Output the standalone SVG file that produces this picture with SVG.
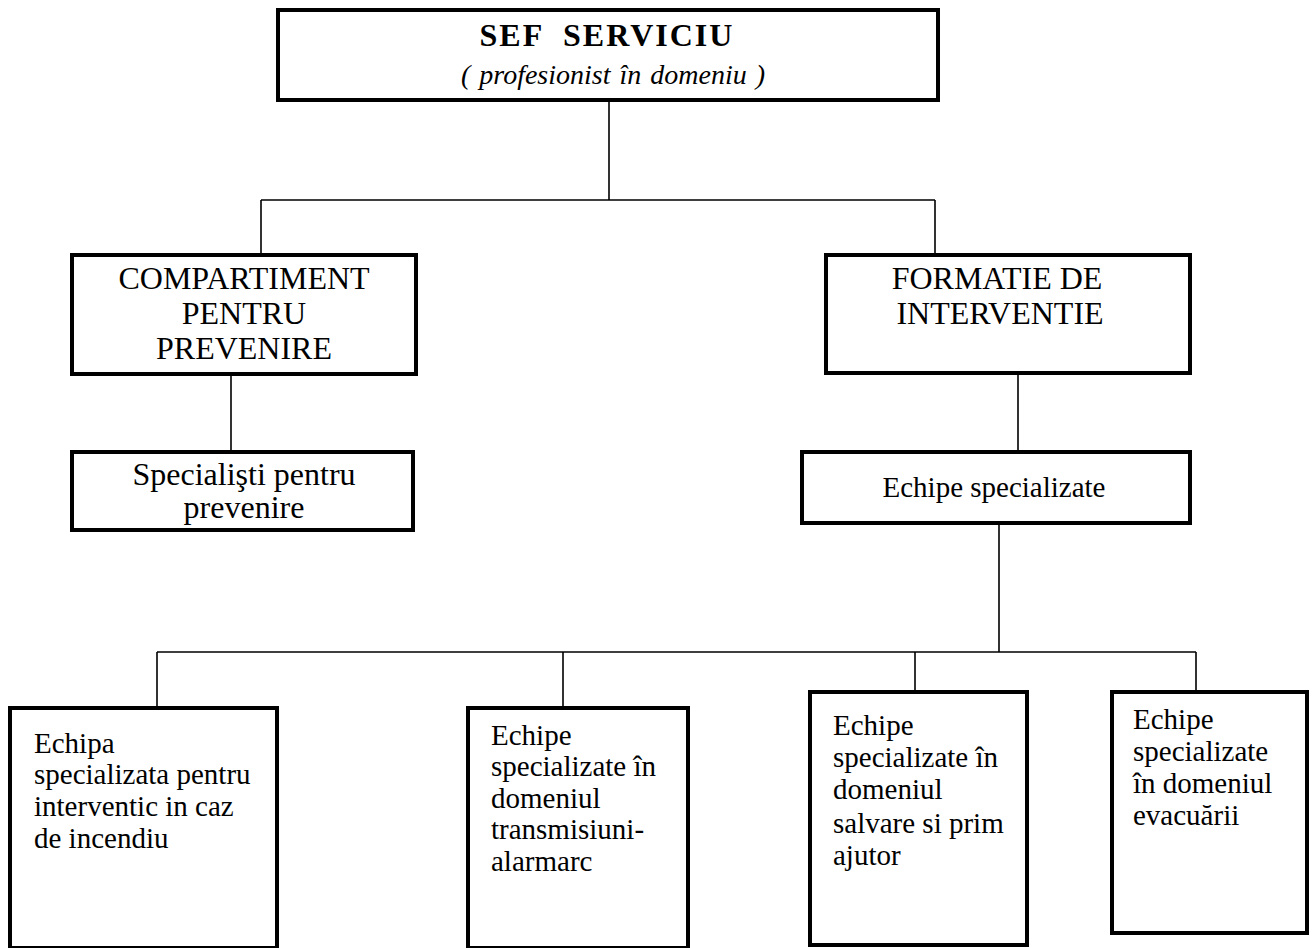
<svg xmlns="http://www.w3.org/2000/svg" width="1314" height="948" viewBox="0 0 1314 948">
<style>
.box{fill:#fff;stroke:#000;stroke-width:4}
.ln{fill:none;stroke:#000;stroke-width:1.6}
text{font-family:"Liberation Serif","Times New Roman",serif;fill:#000}
.c{text-anchor:middle;font-size:32px}
.t{font-size:29px}
</style>
<rect width="1314" height="948" fill="#fff"/>
<g id="connectors">
<path class="ln" d="M609 100V200M261 200H935M261 200V255M935 200V255"/>
<path class="ln" d="M231 374V452M1018 373V452"/>
<path class="ln" d="M999 523V652M157 652H1196M157 652V708M563 652V708M915 652V692M1196 652V692"/>
</g>
<g id="sef">
<rect class="box" x="278" y="10" width="660" height="90"/>
<text x="607" y="46" text-anchor="middle" font-size="32" font-weight="bold" letter-spacing="2" xml:space="preserve">SEF  SERVICIU</text>
<text x="613" y="84" text-anchor="middle" font-size="28" font-style="italic" word-spacing="2">( profesionist în domeniu )</text>
</g>
<g id="compartiment">
<rect class="box" x="72" y="255" width="344" height="119"/>
<text class="c" x="244" y="289">COMPARTIMENT</text>
<text class="c" x="244" y="324">PENTRU</text>
<text class="c" x="244" y="359">PREVENIRE</text>
</g>
<g id="formatie">
<rect class="box" x="826" y="255" width="364" height="118"/>
<text class="c" x="997" y="289">FORMATIE DE</text>
<text class="c" x="1000" y="324">INTERVENTIE</text>
</g>
<g id="specialisti">
<rect class="box" x="72" y="452" width="341" height="78"/>
<text class="c" x="244" y="485">Specialişti pentru</text>
<text class="c" x="244" y="518">prevenire</text>
</g>
<g id="echipe">
<rect class="box" x="802" y="452" width="388" height="71"/>
<text class="c" x="994" y="497" style="font-size:29px">Echipe specializate</text>
</g>
<g id="incendiu">
<rect class="box" x="10" y="708" width="267" height="240"/>
<text class="t" x="34" y="753">Echipa</text>
<text class="t" x="34" y="784">specializata pentru</text>
<text class="t" x="34" y="816">interventic in caz</text>
<text class="t" x="34" y="848">de incendiu</text>
</g>
<g id="transmisiuni">
<rect class="box" x="468" y="708" width="220" height="240"/>
<text class="t" x="491" y="745">Echipe</text>
<text class="t" x="491" y="776">specializate în</text>
<text class="t" x="491" y="808">domeniul</text>
<text class="t" x="491" y="839">transmisiuni-</text>
<text class="t" x="491" y="871">alarmarc</text>
</g>
<g id="salvare">
<rect class="box" x="810" y="692" width="217" height="253"/>
<text class="t" x="833" y="735">Echipe</text>
<text class="t" x="833" y="767">specializate în</text>
<text class="t" x="833" y="799">domeniul</text>
<text class="t" x="833" y="833">salvare si prim</text>
<text class="t" x="833" y="865">ajutor</text>
</g>
<g id="evacuare">
<rect class="box" x="1112" y="692" width="195" height="241"/>
<text class="t" x="1133" y="729">Echipe</text>
<text class="t" x="1133" y="761">specializate</text>
<text class="t" x="1133" y="793">în domeniul</text>
<text class="t" x="1133" y="825">evacuării</text>
</g>
</svg>
